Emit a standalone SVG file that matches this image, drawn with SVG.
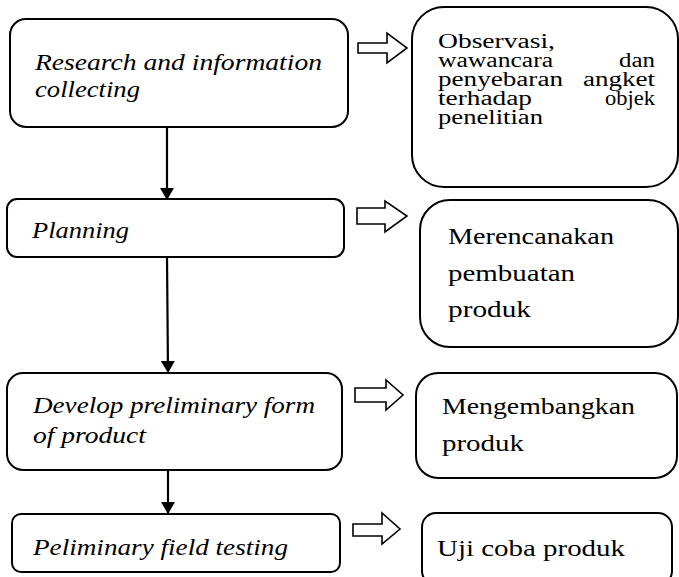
<svg xmlns="http://www.w3.org/2000/svg" width="679" height="577" viewBox="0 0 679 577">
<style>
.box{fill:#fff;stroke:#000;stroke-width:2}
.blk{fill:#fff;stroke:#000;stroke-width:1.6;stroke-linejoin:miter}
.lt{font-family:"Liberation Serif","Times New Roman",serif;font-style:italic;font-size:24px;fill:#000}
.rt{font-family:"Liberation Serif","Times New Roman",serif;font-size:24px;fill:#000}
.rs{font-family:"Liberation Serif","Times New Roman",serif;font-size:20px;fill:#000}
.con{stroke:#000;stroke-width:2.2;fill:none}
</style>
<defs>
<marker id="ah" markerWidth="12" markerHeight="14" refX="12" refY="7" orient="auto" markerUnits="userSpaceOnUse" viewBox="0 0 12 14">
<path d="M0,0 L12,7 L0,14 Z" fill="#000"/>
</marker>
</defs>
<rect width="679" height="577" fill="#fff"/>
<g id="connectors">
<line class="con" x1="167" y1="127" x2="167" y2="200" marker-end="url(#ah)"/>
<line class="con" x1="167" y1="257" x2="168" y2="373" marker-end="url(#ah)"/>
<line class="con" x1="168" y1="470" x2="168" y2="514" marker-end="url(#ah)"/>
<polygon class="blk" points="358,43 387,43 387,33 407,48 387,63 387,53 358,53"/>
<polygon class="blk" points="357,208 385,208 385,201 407,216 385,232 385,224 357,224"/>
<polygon class="blk" points="355,388 386,388 386,380 403,395 386,410 386,402 355,402"/>
<polygon class="blk" points="353,524 382,524 382,513 400,529 382,544 382,536 353,536"/>
</g>
<g id="n1">
<rect class="box" x="10" y="19" width="338" height="108" rx="16"/>
<text class="lt" x="35" y="70" textLength="287" lengthAdjust="spacingAndGlyphs">Research and information</text>
<text class="lt" x="35" y="97" textLength="105" lengthAdjust="spacingAndGlyphs">collecting</text>
</g>
<g id="n2">
<rect class="box" x="7" y="199" width="337" height="58" rx="10"/>
<text class="lt" x="32" y="238" textLength="97" lengthAdjust="spacingAndGlyphs">Planning</text>
</g>
<g id="n3">
<rect class="box" x="7" y="373" width="335" height="97" rx="16"/>
<text class="lt" x="33" y="413" textLength="282" lengthAdjust="spacingAndGlyphs">Develop preliminary form</text>
<text class="lt" x="33" y="443" textLength="113" lengthAdjust="spacingAndGlyphs">of product</text>
</g>
<g id="n4">
<rect class="box" x="12" y="514" width="328" height="58" rx="9"/>
<text class="lt" x="33" y="555" textLength="255" lengthAdjust="spacingAndGlyphs">Peliminary field testing</text>
</g>
<g id="r1">
<rect class="box" x="412" y="7" width="266" height="180" rx="32"/>
<text class="rs" x="438" y="48" textLength="117" lengthAdjust="spacingAndGlyphs">Observasi,</text>
<text class="rs" x="438" y="67" textLength="115" lengthAdjust="spacingAndGlyphs">wawancara</text>
<text class="rs" x="655" y="67" text-anchor="end" textLength="36" lengthAdjust="spacingAndGlyphs">dan</text>
<text class="rs" x="438" y="86" textLength="125" lengthAdjust="spacingAndGlyphs">penyebaran</text>
<text class="rs" x="655" y="86" text-anchor="end" textLength="72" lengthAdjust="spacingAndGlyphs">angket</text>
<text class="rs" x="438" y="105" textLength="94" lengthAdjust="spacingAndGlyphs">terhadap</text>
<text class="rs" x="655" y="105" text-anchor="end" textLength="50" lengthAdjust="spacingAndGlyphs">objek</text>
<text class="rs" x="438" y="124" textLength="105" lengthAdjust="spacingAndGlyphs">penelitian</text>
</g>
<g id="r2">
<rect class="box" x="420" y="200" width="258" height="147" rx="30"/>
<text class="rt" x="448" y="244" textLength="166" lengthAdjust="spacingAndGlyphs">Merencanakan</text>
<text class="rt" x="448" y="281" textLength="127" lengthAdjust="spacingAndGlyphs">pembuatan</text>
<text class="rt" x="448" y="317" textLength="83" lengthAdjust="spacingAndGlyphs">produk</text>
</g>
<g id="r3">
<rect class="box" x="416" y="373" width="261" height="105" rx="22"/>
<text class="rt" x="442" y="414" textLength="193" lengthAdjust="spacingAndGlyphs">Mengembangkan</text>
<text class="rt" x="442" y="451" textLength="82" lengthAdjust="spacingAndGlyphs">produk</text>
</g>
<g id="r4">
<rect class="box" x="422" y="513" width="250" height="72" rx="14"/>
<text class="rt" x="437" y="556" textLength="188" lengthAdjust="spacingAndGlyphs">Uji coba produk</text>
</g>
</svg>
